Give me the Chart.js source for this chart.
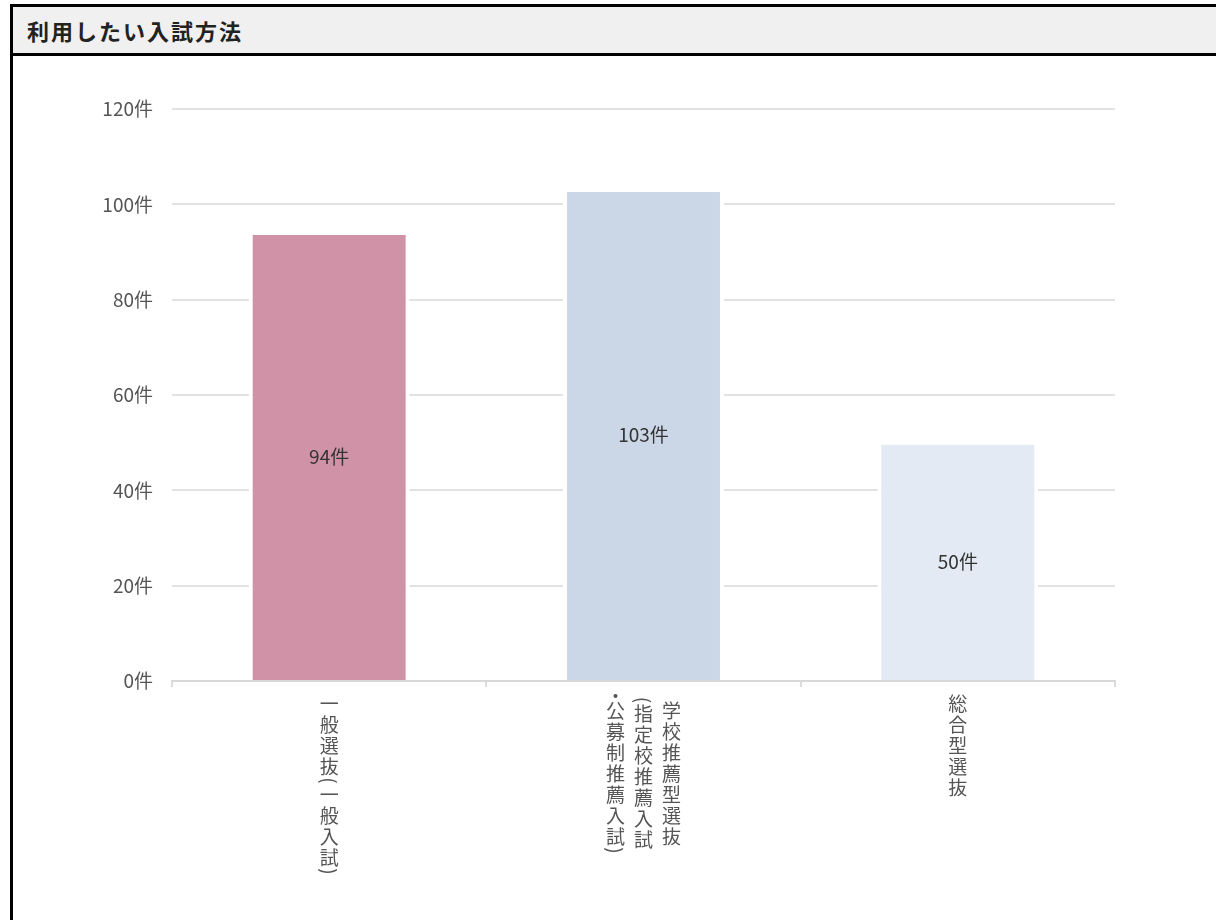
<!DOCTYPE html>
<html>
  <head>
    <meta charset="UTF-8" />
    <title>利用したい入試方法</title>
    <script src="https://cdn.jsdelivr.net/npm/chart.js"></script>
    <style>
      html,
      body {
        margin: 0;
        padding: 0;
        overflow: hidden;
        background: #fff;
        font-family: "Noto Sans CJK JP", sans-serif;
      }

      .panel {
        position: absolute;
        left: 10px;
        top: 4px;
        width: 1260px;
        height: 1000px;
        border: 3px solid #000;
        border-right: none;
        border-bottom: none;
      }

      .panel-head {
        height: 46px;
        line-height: 46px;
        padding-left: 14px;
        background: #f0f0f0;
        border-bottom: 3px solid #000;
        font-size: 22px;
        font-weight: bold;
        letter-spacing: 2px;
        color: #222;
      }

      .chart-box {
        position: relative;
        width: 1203px;
        height: 864px;
      }
    </style>
  </head>

  <body>
    <div class="panel">
      <div class="panel-head">利用したい入試方法</div>
      <div class="chart-box">
        <canvas id="methodChart"></canvas>
      </div>
    </div>

    <script>
      // Category names, one string per vertical column (right to left)
      const categories = [
        ["一般選抜(一般入試)"],
        ["学校推薦型選抜", "(指定校推薦入試", "・公募制推薦入試)"],
        ["総合型選抜"],
      ];
      const counts = [94, 103, 50];
      const barColors = ["#d092a6", "#cbd7e7", "#e3eaf3"];
      const yMax = 120;
      const yStep = 20;
      const unit = "件";

      Chart.defaults.font.family = '"Noto Sans CJK JP", sans-serif';

      // Value label in the middle of every bar
      const barValues = {
        id: "barValues",
        afterDatasetsDraw(chart) {
          const ctx = chart.ctx;
          const meta = chart.getDatasetMeta(0);
          ctx.save();
          ctx.font = '19px "Noto Sans CJK JP"';
          ctx.fillStyle = "#333";
          ctx.textAlign = "center";
          ctx.textBaseline = "middle";
          meta.data.forEach((bar, i) => {
            const p = bar.getCenterPoint();
            ctx.fillText(counts[i] + unit, p.x, p.y);
          });
          ctx.restore();
        },
      };

      // Category names written top to bottom under the axis
      const verticalLabels = {
        id: "verticalLabels",
        afterDraw(chart) {
          const ctx = chart.ctx;
          const xs = chart.scales.x;
          const full = 21;
          const narrow = 7;
          const colGap = 28;
          const isNarrow = (ch) => "()・".includes(ch);
          const colLength = (s) =>
            [...s].reduce((a, ch) => a + (isNarrow(ch) ? narrow : full), 0);

          ctx.save();
          ctx.font = '19px "Noto Sans CJK JP"';
          ctx.fillStyle = "#555";
          ctx.textAlign = "center";
          ctx.textBaseline = "middle";

          chart.data.labels.forEach((cols, i) => {
            const cx = xs.getPixelForValue(i);
            const n = cols.length;
            const maxLen = Math.max(...cols.map(colLength));
            const top = xs.top + 12;
            cols.forEach((col, j) => {
              const x = cx + ((n - 1) / 2 - j) * colGap;
              let y = top + (maxLen - colLength(col)) / 2;
              for (const ch of col) {
                const adv = isNarrow(ch) ? narrow : full;
                const cy = y + adv / 2;
                if (ch === "(" || ch === ")") {
                  ctx.save();
                  ctx.translate(x, cy);
                  ctx.rotate(Math.PI / 2);
                  ctx.fillText(ch, 0, 0);
                  ctx.restore();
                } else {
                  ctx.fillText(ch, x, cy);
                }
                y += adv;
              }
            });
          });
          ctx.restore();
        },
      };

      const ctx = document.getElementById("methodChart").getContext("2d");
      const chart = new Chart(ctx, {
        type: "bar",
        data: {
          labels: categories,
          datasets: [
            {
              data: counts,
              backgroundColor: barColors,
              borderColor: "#fff",
              borderWidth: { top: 2, left: 4, right: 4, bottom: 0 },
              categoryPercentage: 1,
              barPercentage: 0.512,
            },
          ],
        },
        options: {
          responsive: true,
          maintainAspectRatio: false,
          animation: false,
          layout: {
            padding: { left: 0, right: 101, top: 53, bottom: 0 },
          },
          plugins: {
            legend: { display: false },
            tooltip: { enabled: false },
          },
          scales: {
            x: {
              afterFit(scale) {
                scale.height = 239;
              },
              ticks: { display: false },
              grid: {
                drawOnChartArea: false,
                drawTicks: true,
                tickLength: 6,
                color: "#dcdcdc",
                lineWidth: 2,
              },
              border: { display: true, color: "#d8d8d8", width: 2 },
            },
            y: {
              min: 0,
              max: yMax,
              afterFit(scale) {
                scale.width = 159;
              },
              ticks: {
                stepSize: yStep,
                padding: 19,
                color: "#555",
                font: { size: 19 },
                callback: (v) => v + unit,
              },
              grid: {
                drawTicks: false,
                color: "#e2e2e2",
                lineWidth: 2,
              },
              border: { display: false },
            },
          },
        },
        plugins: [barValues, verticalLabels],
      });
    </script>
  </body>
</html>
